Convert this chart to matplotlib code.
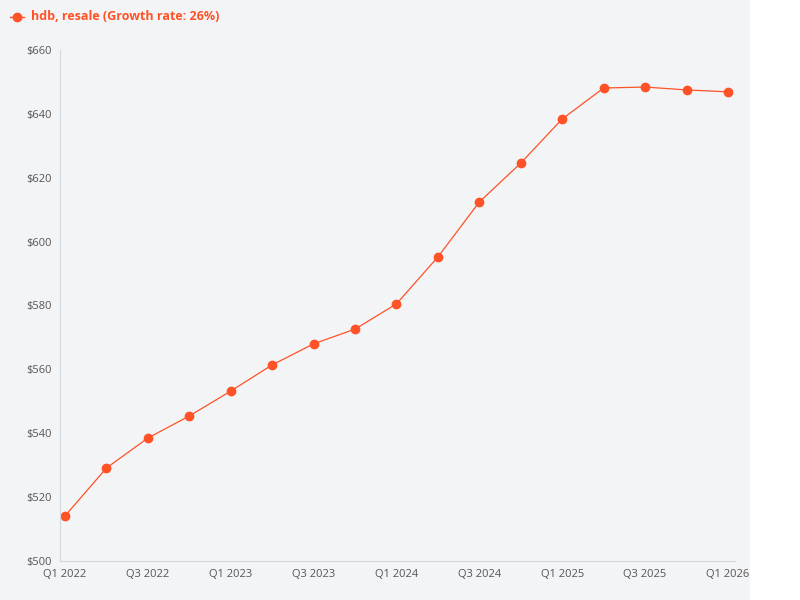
import matplotlib.pyplot as plt
from matplotlib.patches import Rectangle

plt.rcParams['font.family'] = ['Open Sans', 'DejaVu Sans']

QUARTERS = ["Q1 2022", "Q2 2022", "Q3 2022", "Q4 2022",
            "Q1 2023", "Q2 2023", "Q3 2023", "Q4 2023",
            "Q1 2024", "Q2 2024", "Q3 2024", "Q4 2024",
            "Q1 2025", "Q2 2025", "Q3 2025", "Q4 2025", "Q1 2026"]
PRICES = [514.1, 529.1, 538.5, 545.4, 553.2, 561.4, 568.0, 572.6,
          580.5, 595.2, 612.4, 624.6, 638.4, 648.1, 648.4, 647.5, 646.9]
COLOR = "#ff5226"

fig = plt.figure(figsize=(8, 6), dpi=100)
fig.patches.append(Rectangle((0, 0), 750 / 800, 1, transform=fig.transFigure,
                             facecolor="#f3f4f6", edgecolor="none", zorder=-10))
ax = fig.add_axes([60 / 800, 39 / 600, 675 / 800, 511 / 600])
ax.set_zorder(1)
ax.patch.set_alpha(0)

x = list(range(len(QUARTERS)))
ax.plot(x, PRICES, color=COLOR, lw=0.9, marker="o", ms=6, clip_on=False)

ax.set_xlim(-0.12, 16.17)
ax.set_ylim(500, 660)
ax.set_xticks(x[::2])
ax.set_xticklabels(QUARTERS[::2])
ax.set_yticks(range(500, 661, 20))
ax.set_yticklabels([f"${v}" for v in range(500, 661, 20)])
ax.tick_params(labelsize=8, colors="#555555", length=0, pad=6)
for s in ["top", "right"]:
    ax.spines[s].set_visible(False)
for s in ["left", "bottom"]:
    ax.spines[s].set_color("#d0d8e0")

fig.lines.append(plt.Line2D([10 / 800, 24 / 800], [583 / 600, 583 / 600],
                            transform=fig.transFigure, color=COLOR, lw=1))
fig.lines.append(plt.Line2D([17 / 800], [583 / 600], transform=fig.transFigure,
                            color=COLOR, marker="o", ms=6, lw=0))
fig.text(31 / 800, 583 / 600, "hdb, resale (Growth rate: 26%)", color=COLOR,
         fontsize=9, fontweight="bold", va="center")

fig.savefig("out.png", dpi=100)
